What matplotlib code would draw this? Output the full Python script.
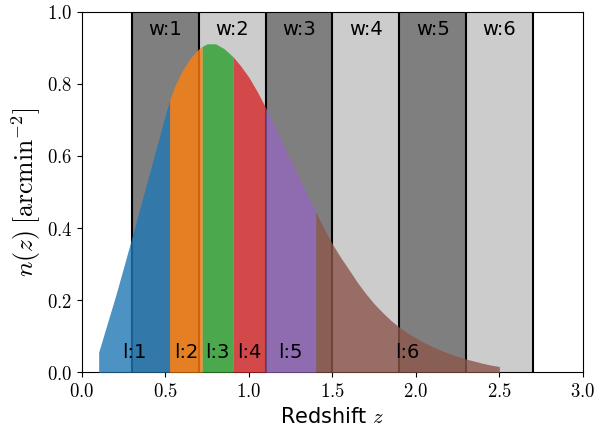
import numpy as np
import matplotlib
matplotlib.use('Agg')
import matplotlib.pyplot as plt

plt.rcParams['mathtext.fontset'] = 'cm'
plt.rcParams['font.family'] = 'DejaVu Sans'

# n(z)
z = [0.10, 0.15, 0.20, 0.25, 0.30, 0.35, 0.40, 0.45, 0.50, 0.525, 0.55, 0.60,
     0.65, 0.70, 0.72, 0.75, 0.80, 0.85, 0.90, 0.905, 0.95, 1.00, 1.05, 1.10,
     1.15, 1.20, 1.25, 1.30, 1.35, 1.40, 1.45, 1.50, 1.55, 1.60, 1.65, 1.70,
     1.75, 1.80, 1.85, 1.90, 1.95, 2.00, 2.05, 2.10, 2.15, 2.20, 2.25, 2.30,
     2.35, 2.40, 2.45, 2.50]
nz = [0.056, 0.133, 0.210, 0.292, 0.376, 0.460, 0.545, 0.630, 0.715, 0.754, 0.787, 0.836,
      0.872, 0.897, 0.904, 0.911, 0.911, 0.898, 0.877, 0.875, 0.850, 0.818, 0.778, 0.734,
      0.687, 0.638, 0.589, 0.540, 0.492, 0.445, 0.398, 0.355, 0.318, 0.284, 0.249, 0.218,
      0.190, 0.166, 0.144, 0.125, 0.109, 0.095, 0.082, 0.071, 0.061, 0.052, 0.044, 0.037,
      0.031, 0.025, 0.020, 0.016]

# lens bins (l) and wide bins (w)
l_edges = [0.10, 0.525, 0.72, 0.905, 1.10, 1.40, 2.50]
l_labels = ['l:1', 'l:2', 'l:3', 'l:4', 'l:5', 'l:6']
w_edges = [0.3, 0.7, 1.1, 1.5, 1.9, 2.3, 2.7]
w_labels = ['w:1', 'w:2', 'w:3', 'w:4', 'w:5', 'w:6']

xticks = [0.0, 0.5, 1.0, 1.5, 2.0, 2.5, 3.0]
yticks = [0.0, 0.2, 0.4, 0.6, 0.8, 1.0]

z = np.array(z)
nz = np.array(nz)

fig = plt.figure(figsize=(6.05, 4.26), dpi=100)
ax = fig.add_axes([0.1355, 0.126, 0.828, 0.8465])

for i in range(len(w_labels)):
    a = 0.5 if i % 2 == 0 else 0.2
    ax.axvspan(w_edges[i], w_edges[i+1], color='k', alpha=a, lw=0, zorder=1)
    ax.text((w_edges[i] + w_edges[i+1])/2, 0.95, w_labels[i], ha='center', va='center',
            fontsize=14, zorder=5)
for e in w_edges:
    ax.axvline(e, color='k', lw=1.5, zorder=2)

colors = plt.rcParams['axes.prop_cycle'].by_key()['color']
for i in range(len(l_labels)):
    lo, hi = l_edges[i], l_edges[i+1]
    m = (z >= lo - 1e-9) & (z <= hi + 1e-9)
    ax.fill_between(z[m], 0, nz[m], color=colors[i], alpha=0.8, lw=0, zorder=3)
    ax.text((lo + hi)/2, 0.055, l_labels[i], ha='center', va='center',
            fontsize=14, zorder=5)

ax.set_xlim(0, 3)
ax.set_ylim(0, 1)
ax.set_xticks(xticks)
ax.set_xticklabels(['$%.1f$' % v for v in xticks], fontsize=13.5)
ax.set_yticks(yticks)
ax.set_yticklabels(['$%.1f$' % v for v in yticks], fontsize=13.5)
ax.set_xlabel('Redshift $z$', fontsize=15)
ax.set_ylabel(r'$n(z)\;[\mathrm{arcmin}^{-2}]$', fontsize=18.5, labelpad=3)

plt.savefig('out.png', dpi=100)
